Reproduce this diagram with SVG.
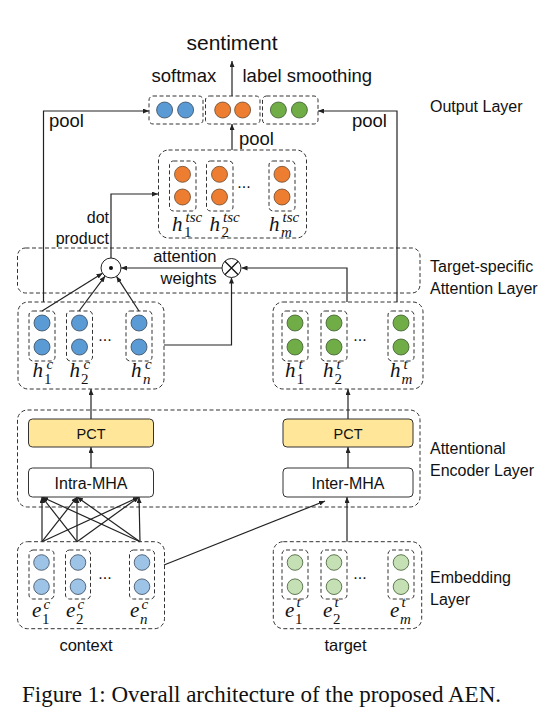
<svg xmlns="http://www.w3.org/2000/svg" width="549" height="720" viewBox="0 0 549 720">
<defs>
<style>
.dash{fill:none;stroke:#333;stroke-width:1;stroke-dasharray:4 2.5}
.ln{fill:none;stroke:#222;stroke-width:1.2}
.arr{marker-end:url(#ah)}
.t{font-family:"Liberation Sans",Arial,sans-serif;fill:#111}
.m{font-family:"Liberation Serif","Times New Roman",serif;font-style:italic;fill:#111}
.d{font-family:"Liberation Serif","Times New Roman",serif;fill:#111}
.cb{fill:#5B9BD5;stroke:#3a4a5a;stroke-width:0.8}
.co{fill:#ED7D31;stroke:#6a4a30;stroke-width:0.8}
.cg{fill:#70AD47;stroke:#3f5a30;stroke-width:0.8}
.clb{fill:#9DC3E6;stroke:#3a4a5a;stroke-width:0.8}
.clg{fill:#C5E0B4;stroke:#3f5a30;stroke-width:0.8}
.pct{fill:#FFE699;stroke:#333;stroke-width:1}
.mha{fill:#fff;stroke:#333;stroke-width:1}
</style>
<marker id="ah" viewBox="0 0 6 5" refX="6" refY="2.5" markerWidth="6" markerHeight="5" orient="auto" markerUnits="userSpaceOnUse"><path d="M0,0 L6,2.5 L0,5 z" fill="#222"/></marker>
</defs>

<!-- layer frames -->
<g id="tsa-layer"><rect class="dash" x="17.5" y="248" width="402.5" height="45" rx="8"/></g>
<g id="encoder-layer"><rect class="dash" x="17.5" y="410" width="402.5" height="97" rx="10"/></g>

<!-- connectors -->
<g id="connectors">
<line class="ln arr" x1="232" y1="96" x2="232" y2="61"/>
<polyline class="ln arr" points="43.5,302 43.5,111 149,111"/>
<polyline class="ln arr" points="397,302 397,111 318,111"/>
<line class="ln arr" x1="232" y1="150" x2="232" y2="124"/>
<polyline class="ln arr" points="111,258 111,194 158,194"/>
<line class="ln arr" x1="222" y1="268" x2="121" y2="268"/>
<polyline class="ln arr" points="347,302 347,268 241.5,268"/>
<polyline class="ln arr" points="164,345 231.5,345 231.5,277.5"/>
<line class="ln arr" x1="42" y1="311" x2="102.5" y2="273.3"/>
<line class="ln arr" x1="79" y1="311" x2="105.1" y2="276.1"/>
<line class="ln arr" x1="139" y1="311" x2="116.5" y2="276.4"/>
<line class="ln arr" x1="91" y1="419" x2="91" y2="389"/>
<line class="ln arr" x1="348" y1="419" x2="348" y2="389"/>
<line class="ln arr" x1="91" y1="468" x2="91" y2="447"/>
<line class="ln arr" x1="348" y1="468" x2="348" y2="447"/>
<line class="ln arr" x1="42" y1="541.7" x2="42" y2="497"/>
<line class="ln arr" x1="42" y1="541.7" x2="77" y2="497"/>
<line class="ln arr" x1="42" y1="541.7" x2="139" y2="497"/>
<line class="ln arr" x1="77" y1="541.7" x2="42" y2="497"/>
<line class="ln arr" x1="77" y1="541.7" x2="77" y2="497"/>
<line class="ln arr" x1="77" y1="541.7" x2="139" y2="497"/>
<line class="ln arr" x1="140" y1="541.7" x2="42" y2="497"/>
<line class="ln arr" x1="140" y1="541.7" x2="77" y2="497"/>
<line class="ln arr" x1="140" y1="541.7" x2="139" y2="497"/>
<line class="ln arr" x1="164" y1="565" x2="325" y2="501"/>
<line class="ln arr" x1="347" y1="541.7" x2="347" y2="497"/>
</g>

<!-- output layer -->
<g id="output">
<text class="t" x="232" y="50" font-size="21" text-anchor="middle">sentiment</text>
<text class="t" x="151.5" y="82" font-size="18.5">softmax</text>
<text class="t" x="242.5" y="82" font-size="18.5">label smoothing</text>
<rect class="dash" x="149" y="96" width="54" height="28" rx="4"/>
<rect class="dash" x="205.5" y="96" width="54.5" height="28" rx="4"/>
<rect class="dash" x="262.5" y="96" width="55.5" height="28" rx="4"/>
<circle class="cb" cx="164.6" cy="110" r="8"/><circle class="cb" cx="185.6" cy="110" r="8"/>
<circle class="co" cx="222.7" cy="110" r="8"/><circle class="co" cx="242.6" cy="110" r="8"/>
<circle class="cg" cx="278.4" cy="110" r="8"/><circle class="cg" cx="299.4" cy="110" r="8"/>
<text class="t" x="49" y="127" font-size="18.5">pool</text>
<text class="t" x="352" y="127" font-size="18.5">pool</text>
<text class="t" x="239" y="145" font-size="18.5">pool</text>
</g>

<!-- h tsc -->
<g id="h-tsc">
<rect class="dash" x="158.5" y="150" width="148" height="88" rx="10"/>
<rect class="dash" x="169.5" y="161" width="26.5" height="50" rx="4"/>
<rect class="dash" x="206.5" y="161" width="26.5" height="50" rx="4"/>
<rect class="dash" x="269" y="161" width="26" height="50" rx="4"/>
<circle class="co" cx="182.5" cy="174.3" r="8"/><circle class="co" cx="182.5" cy="197" r="8"/>
<circle class="co" cx="219.5" cy="174.3" r="8"/><circle class="co" cx="219.5" cy="197" r="8"/>
<circle class="co" cx="282" cy="174.3" r="8"/><circle class="co" cx="282" cy="197" r="8"/>
<text class="t" x="244" y="188" font-size="16" text-anchor="middle">...</text>
<text class="m" x="172" y="231" font-size="21">h</text><text class="m" x="185.5" y="221.5" font-size="15">tsc</text><text class="d" x="184" y="237" font-size="15">1</text>
<text class="m" x="209.5" y="231" font-size="21">h</text><text class="m" x="223" y="221.5" font-size="15">tsc</text><text class="d" x="221.5" y="237" font-size="15">2</text>
<text class="m" x="269" y="231" font-size="21">h</text><text class="m" x="282.5" y="221.5" font-size="15">tsc</text><text class="m" x="281" y="237" font-size="15">m</text>
</g>

<!-- target-specific attention -->
<g id="dot-op">
<circle cx="111" cy="268" r="10" fill="#fff" stroke="#222" stroke-width="1"/>
<circle cx="111" cy="268" r="2" fill="#111"/>
</g>
<g id="mul-op">
<circle cx="231.5" cy="268" r="9.5" fill="#fff" stroke="#222" stroke-width="1"/>
<path d="M224.8,261.3 L238.2,274.7 M238.2,261.3 L224.8,274.7" stroke="#111" stroke-width="1.3"/>
</g>
<g id="tsa-labels">
<text class="t" x="109" y="223" font-size="16" text-anchor="end">dot</text>
<text class="t" x="109" y="244" font-size="16" text-anchor="end">product</text>
<text class="t" x="216.5" y="262" font-size="16.5" text-anchor="end">attention</text>
<text class="t" x="216.5" y="284" font-size="16.5" text-anchor="end">weights</text>
</g>

<!-- h c -->
<g id="h-c">
<rect class="dash" x="18" y="302" width="146" height="87" rx="10"/>
<rect class="dash" x="29" y="311" width="26" height="50" rx="4"/>
<rect class="dash" x="66.5" y="311" width="26" height="50" rx="4"/>
<rect class="dash" x="126" y="311" width="26" height="50" rx="4"/>
<circle class="cb" cx="42" cy="323" r="8"/><circle class="cb" cx="42" cy="347" r="8"/>
<circle class="cb" cx="79.5" cy="323" r="8"/><circle class="cb" cx="79.5" cy="347" r="8"/>
<circle class="cb" cx="139" cy="323" r="8"/><circle class="cb" cx="139" cy="347" r="8"/>
<text class="t" x="105" y="341" font-size="16" text-anchor="middle">...</text>
<text class="m" x="32.5" y="377" font-size="21">h</text><text class="m" x="46.5" y="369" font-size="15">c</text><text class="d" x="44" y="384" font-size="15">1</text>
<text class="m" x="69.5" y="377" font-size="21">h</text><text class="m" x="83.5" y="369" font-size="15">c</text><text class="d" x="81" y="384" font-size="15">2</text>
<text class="m" x="131" y="377" font-size="21">h</text><text class="m" x="145" y="369" font-size="15">c</text><text class="m" x="143" y="384" font-size="15">n</text>
</g>

<!-- h t -->
<g id="h-t">
<rect class="dash" x="273" y="302" width="150" height="87" rx="10"/>
<rect class="dash" x="282" y="311" width="26" height="50" rx="4"/>
<rect class="dash" x="321" y="311" width="26" height="50" rx="4"/>
<rect class="dash" x="388" y="311" width="26" height="50" rx="4"/>
<circle class="cg" cx="295" cy="323" r="8"/><circle class="cg" cx="295" cy="347" r="8"/>
<circle class="cg" cx="334" cy="323" r="8"/><circle class="cg" cx="334" cy="347" r="8"/>
<circle class="cg" cx="401" cy="323" r="8"/><circle class="cg" cx="401" cy="347" r="8"/>
<text class="t" x="360" y="341" font-size="16" text-anchor="middle">...</text>
<text class="m" x="285" y="377" font-size="21">h</text><text class="m" x="298.5" y="369" font-size="15">t</text><text class="d" x="296.5" y="384" font-size="15">1</text>
<text class="m" x="323" y="377" font-size="21">h</text><text class="m" x="336.5" y="369" font-size="15">t</text><text class="d" x="334.5" y="384" font-size="15">2</text>
<text class="m" x="390" y="377" font-size="21">h</text><text class="m" x="403.5" y="369" font-size="15">t</text><text class="m" x="401.5" y="384" font-size="15">m</text>
</g>

<!-- encoder -->
<g id="pct-c"><rect class="pct" x="28.5" y="419" width="125" height="28" rx="4"/><text class="t" x="91" y="439" font-size="14.5" text-anchor="middle">PCT</text></g>
<g id="intra-mha"><rect class="mha" x="28.5" y="468" width="125" height="29" rx="4"/><text class="t" x="91" y="488.5" font-size="16" text-anchor="middle">Intra-MHA</text></g>
<g id="pct-t"><rect class="pct" x="283" y="419" width="130" height="28" rx="4"/><text class="t" x="348" y="439" font-size="14.5" text-anchor="middle">PCT</text></g>
<g id="inter-mha"><rect class="mha" x="283" y="468" width="130" height="29" rx="4"/><text class="t" x="348" y="488.5" font-size="16" text-anchor="middle">Inter-MHA</text></g>

<!-- embedding -->
<g id="e-c">
<rect class="dash" x="17.5" y="541.7" width="147" height="87" rx="10"/>
<rect class="dash" x="29" y="550" width="25" height="49" rx="4"/>
<rect class="dash" x="65.5" y="550" width="25" height="49" rx="4"/>
<rect class="dash" x="129.5" y="550" width="25" height="49" rx="4"/>
<circle class="clb" cx="41.5" cy="562.5" r="7.8"/><circle class="clb" cx="41.5" cy="586.7" r="7.8"/>
<circle class="clb" cx="78" cy="562.5" r="7.8"/><circle class="clb" cx="78" cy="586.7" r="7.8"/>
<circle class="clb" cx="142" cy="562.5" r="7.8"/><circle class="clb" cx="142" cy="586.7" r="7.8"/>
<text class="t" x="105" y="579" font-size="16" text-anchor="middle">...</text>
<text class="m" x="32" y="617" font-size="21">e</text><text class="m" x="43.5" y="609" font-size="15">c</text><text class="d" x="42" y="624" font-size="15">1</text>
<text class="m" x="66" y="617" font-size="21">e</text><text class="m" x="77.5" y="609" font-size="15">c</text><text class="d" x="76" y="624" font-size="15">2</text>
<text class="m" x="130" y="617" font-size="21">e</text><text class="m" x="141.5" y="609" font-size="15">c</text><text class="m" x="140" y="624" font-size="15">n</text>
<text class="t" x="86" y="651" font-size="16.5" text-anchor="middle">context</text>
</g>
<g id="e-t">
<rect class="dash" x="273.3" y="541.7" width="148.4" height="87" rx="10"/>
<rect class="dash" x="282" y="550" width="26" height="49" rx="4"/>
<rect class="dash" x="321" y="550" width="26" height="49" rx="4"/>
<rect class="dash" x="388" y="550" width="26" height="49" rx="4"/>
<circle class="clg" cx="295" cy="562.5" r="7.8"/><circle class="clg" cx="295" cy="586.7" r="7.8"/>
<circle class="clg" cx="334" cy="562.5" r="7.8"/><circle class="clg" cx="334" cy="586.7" r="7.8"/>
<circle class="clg" cx="401" cy="562.5" r="7.8"/><circle class="clg" cx="401" cy="586.7" r="7.8"/>
<text class="t" x="360" y="579" font-size="16" text-anchor="middle">...</text>
<text class="m" x="285" y="617" font-size="21">e</text><text class="m" x="296.5" y="607" font-size="15">t</text><text class="d" x="295" y="624" font-size="15">1</text>
<text class="m" x="323" y="617" font-size="21">e</text><text class="m" x="334.5" y="607" font-size="15">t</text><text class="d" x="333" y="624" font-size="15">2</text>
<text class="m" x="390" y="617" font-size="21">e</text><text class="m" x="401.5" y="607" font-size="15">t</text><text class="m" x="400" y="624" font-size="15">m</text>
<text class="t" x="345.5" y="651" font-size="16.5" text-anchor="middle">target</text>
</g>

<!-- layer labels -->
<g id="layer-labels">
<text class="t" x="430" y="112" font-size="16">Output Layer</text>
<text class="t" x="430" y="272" font-size="16">Target-specific</text>
<text class="t" x="430" y="294" font-size="16">Attention Layer</text>
<text class="t" x="430" y="454" font-size="16">Attentional</text>
<text class="t" x="430" y="476" font-size="16">Encoder Layer</text>
<text class="t" x="430" y="583" font-size="16">Embedding</text>
<text class="t" x="430" y="605" font-size="16">Layer</text>
</g>

<g id="caption">
<text class="d" x="22" y="702" font-size="23" style="font-style:normal">Figure 1: Overall architecture of the proposed AEN.</text>
</g>
</svg>
